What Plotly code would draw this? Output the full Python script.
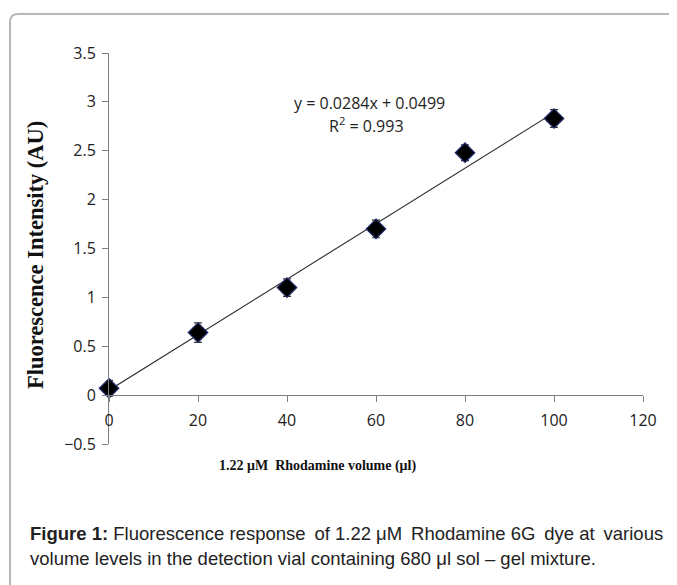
import plotly.graph_objects as go

# ---- data ----
volume_ul = [0, 20, 40, 60, 80, 100]
intensity_au = [0.07, 0.64, 1.10, 1.70, 2.48, 2.83]
error_au = [0.08, 0.10, 0.09, 0.09, 0.08, 0.09]
fit_slope = 0.0284
fit_intercept = 0.0499
fit_r2 = 0.993
x_ticks = [0, 20, 40, 60, 80, 100, 120]
y_ticks = [-0.5, 0, 0.5, 1, 1.5, 2, 2.5, 3, 3.5]

# page is 677x585 but the browser body has an 8px margin
OFF = 8
W, H = 677 - OFF, 585 - OFF
# plot area in page pixels: x 109..643, y 53..444
L, R = 109 - OFF, 677 - 643
T, B = 53 - OFF, 585 - 444
PW, PH = W - L - R, H - T - B


def px(x):  # page pixel -> paper
    return (x - OFF - L) / PW


def py(y):  # page pixel -> paper
    return (H - B - (y - OFF)) / PH


fit_x = [min(volume_ul), max(volume_ul)]
fit_y = [fit_slope * v + fit_intercept for v in fit_x]

fig = go.Figure()
fig.add_trace(go.Scatter(
    x=fit_x, y=fit_y, mode="lines",
    line=dict(color="#2a2a2a", width=1.1),
    hoverinfo="skip", showlegend=False, cliponaxis=False))
fig.add_trace(go.Scatter(
    x=volume_ul, y=intensity_au, mode="markers",
    marker=dict(symbol="diamond", size=15, color="#000000",
                line=dict(color="#1f2a6b", width=1.2)),
    error_y=dict(type="data", array=error_au, visible=True,
                 color="#333333", thickness=1.2, width=4),
    showlegend=False, cliponaxis=False))

axis_font = dict(family="Open Sans, Liberation Sans, sans-serif", size=16, color="#222222")

fig.update_layout(
    width=W, height=H,
    margin=dict(l=L, r=R, t=T, b=B, autoexpand=False),
    paper_bgcolor="white", plot_bgcolor="white",
    xaxis=dict(range=[0, 120], tickvals=x_ticks, ticks="outside", ticklen=6,
               tickcolor="#7f7f7f", showline=True, linecolor="#7f7f7f",
               linewidth=1, showgrid=False, zeroline=False,
               anchor="free", position=0.125, tickfont=axis_font,
               ticklabelstandoff=5),
    yaxis=dict(range=[-0.5, 3.5], tickvals=y_ticks, ticks="outside", ticklen=6,
               tickcolor="#7f7f7f", showline=True, linecolor="#7f7f7f",
               linewidth=1, showgrid=False, zeroline=False,
               tickfont=axis_font, ticklabelstandoff=3),
)

eq_font = dict(family="Open Sans, Liberation Sans, sans-serif", size=16, color="#222222")


def note(x, y, text, font, angle=0, xanchor="center"):
    fig.add_annotation(x=px(x), y=py(y), xref="paper", yref="paper",
                       xanchor=xanchor, yanchor="middle", text=text,
                       showarrow=False, font=font, textangle=angle)


# Equation annotation
note(369, 103, f"y = {fit_slope}x + {fit_intercept}", eq_font)
note(366, 125, f"R<sup>2</sup> = {fit_r2}", eq_font)

# Axis titles
note(317, 466, "<b>1.22 μM  Rhodamine volume (μl)</b>",
     dict(family="Liberation Serif, serif", size=14, color="#111111"))
note(35, 255, "<b>Fluorescence Intensity (AU)</b>",
     dict(family="Liberation Serif, serif", size=22.5, color="#111111"), angle=-90)

# Caption (first line justified in the reference: pad a few spaces)
cap_font = dict(family="Liberation Sans, Arial, sans-serif", size=18.5, color="#222222")
ts = " \u2009"
line1 = ("<b>Figure 1:</b> Fluorescence response" + ts + "of 1.22 μM" + ts +
         "Rhodamine 6G" + ts + "dye at" + ts + "various")
note(28, 533, line1, cap_font, xanchor="left")
note(28, 558, "volume levels in the detection vial containing 680 μl sol – gel mixture.",
     cap_font, xanchor="left")

# Frame (rounded top-left corner)
x0, y0, r = 10, 14, 8
path = (f"M {px(x0)},{py(600)} L {px(x0)},{py(y0 + r)} "
        f"Q {px(x0)},{py(y0)} {px(x0 + r)},{py(y0)} L {px(690)},{py(y0)}")
fig.add_shape(type="path", path=path, xref="paper", yref="paper",
              line=dict(color="#b8b8b8", width=2), layer="below")

fig.write_html("out.html")
